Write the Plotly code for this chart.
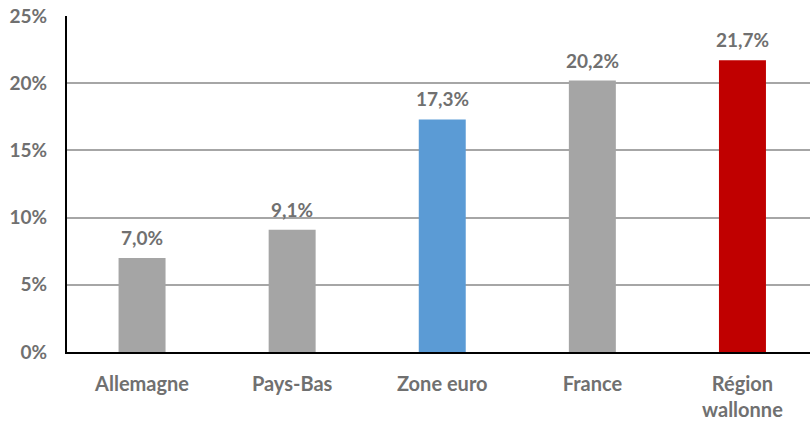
import plotly.graph_objects as go

categories = ["Allemagne", "Pays-Bas", "Zone euro", "France", "Région<br>wallonne"]
values = [7.0, 9.1, 17.3, 20.2, 21.7]
colors = ["#A5A5A5", "#A5A5A5", "#5B9BD5", "#A5A5A5", "#C00000"]
tick_vals = [0, 5, 10, 15, 20, 25]
tick_text = ["0%", "5%", "10%", "15%", "20%", "25%"]

FONT = "Lato"
GREY_TXT = "#707070"
FS = 19

fig = go.Figure(go.Bar(
    x=categories, y=values,
    marker=dict(color=colors, line=dict(width=0)),
    cliponaxis=False,
))

for c, v in zip(categories, values):
    fig.add_annotation(
        x=c, y=v, text=f"{v:.1f}%".replace(".", ","),
        showarrow=False, yanchor="bottom", yshift=7,
        font=dict(family=FONT, size=FS, color=GREY_TXT, weight="bold"),
    )

fig.update_layout(
    width=810, height=422,
    margin=dict(l=67, r=0, t=16, b=70, autoexpand=False),
    paper_bgcolor="white", plot_bgcolor="white",
    bargap=0.687,
    showlegend=False,
    font=dict(family=FONT, size=FS, color=GREY_TXT),
)
fig.update_xaxes(
    range=[-0.5, 4.45], automargin=False,
    showline=True, linecolor="black", linewidth=2,
    ticks="", ticklabelstandoff=13, ticklabeloverflow="allow",
    tickfont=dict(family=FONT, size=20, color=GREY_TXT, weight="bold"),
)
fig.update_yaxes(
    range=[0, 25], tickvals=tick_vals, ticktext=tick_text, automargin=False,
    showgrid=True, gridcolor="#A6A6A6", gridwidth=1.5,
    showline=True, linecolor="black", linewidth=2,
    zeroline=False, ticks="", ticklabelstandoff=14, ticklabeloverflow="allow",
    tickfont=dict(family=FONT, size=FS, color=GREY_TXT, weight="bold"),
)

# remove the browser's default 8px body margin so the figure fills the window
fig.write_html(
    "out.html",
    config={"displayModeBar": False},
    post_script="document.body.style.margin='0';document.body.style.overflow='hidden';",
)
